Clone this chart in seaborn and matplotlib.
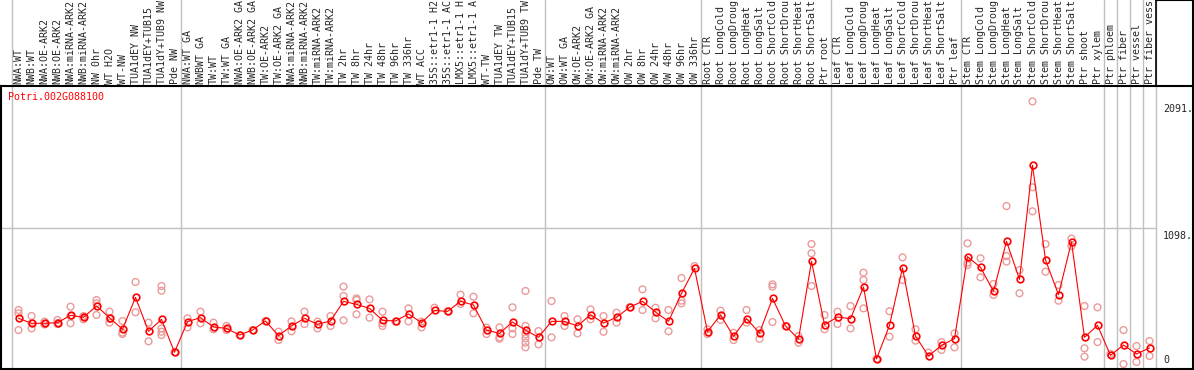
import numpy as np
import pandas as pd
import matplotlib
matplotlib.use("Agg")
import matplotlib.pyplot as plt
import seaborn as sns

# 샘플 이름 (그림에 보이는 대로, 잘린 글자는 생략)
labels_nw = ["NWA:WT", "NWB:WT", "NWA:OE-ARK2", "NWB:OE-ARK2", "NWA:miRNA-ARK2",
             "NWB:miRNA-ARK2", "NW 0hr", "WT H2O", "WT-NW", "TUA1dEY NW",
             "TUA1dEY+TUB15", "TUA1dY+TUB9 NW", "Pde NW"]
labels_tw = ["NWA:WT GA", "NWBWT GA", "TW:WT", "TW:WT GA", "NWA:OE-ARK2 GA",
             "NWB:OE-ARK2 GA", "TW:OE-ARK2", "TW:OE-ARK2 GA", "NWA:miRNA-ARK2",
             "NWB:miRNA-ARK2", "TW:miRNA-ARK2", "TW:miRNA-ARK2", "TW 2hr", "TW 8hr",
             "TW 24hr", "TW 48hr", "TW 96hr", "TW 336hr", "WT ACC", "35S::etr1-1 H2",
             "35S::etr1-1 AC", "LMX5::etr1-1 H", "LMX5::etr1-1 A", "WT-TW",
             "TUA1dEY TW", "TUA1dEY+TUB15", "TUA1dY+TUB9 TW", "Pde TW"]
labels_ow = ["OW:WT", "OW:WT GA", "OW:OE-ARK2", "OW:OE-ARK2 GA", "OW:miRNA-ARK2",
             "OW:miRNA-ARK2", "OW 2hr", "OW 8hr", "OW 24hr", "OW 48hr", "OW 96hr", "OW 336hr"]
labels_root = ["Root CTR", "Root LongCold", "Root LongDroug", "Root LongHeat", "Root LongSalt",
               "Root ShortCold", "Root ShortDrou", "Root ShortHeat", "Root ShortSalt", "Ptr root"]
labels_leaf = ["Leaf CTR", "Leaf LongCold", "Leaf LongDroug", "Leaf LongHeat", "Leaf LongSalt",
               "Leaf ShortCold", "Leaf ShortDrou", "Leaf ShortHeat", "Leaf ShortSalt", "Ptr leaf"]
labels_stem = ["Stem CTR", "Stem LongCold", "Stem LongDroug", "Stem LongHeat", "Stem LongSalt",
               "Stem ShortCold", "Stem ShortDrou", "Stem ShortHeat", "Stem ShortSalt",
               "Ptr shoot", "Ptr xylem"]
labels_ptr = ["Ptr phloem", "Ptr fiber", "Ptr vessel", "Ptr fiber vess"]

groups = [labels_nw, labels_tw, labels_ow, labels_root, labels_leaf, labels_stem,
          ["Ptr phloem"], ["Ptr fiber"], ["Ptr vessel"], ["Ptr fiber vess"]]
labels = sum(groups, [])

# 평균 발현값 (빨간 선)
mean_expr = [393, 354, 354, 359, 416, 401, 489, 398, 307, 557, 291, 385, 127,
             367, 398, 325, 314, 262, 301, 372, 257, 333, 393, 346, 372, 526, 502, 471,
             377, 372, 427, 359, 455, 447, 526, 497, 301, 275, 364, 301, 244,
             369, 369, 333, 421, 356, 400, 479, 526, 442, 369, 588, 784,
             288, 419, 252, 390, 278, 549, 333, 231, 839, 343,
             403, 390, 638, 75, 338, 787, 254, 98, 181, 234,
             876, 792, 604, 996, 698, 1591, 850, 578, 991, 244, 338,
             103, 184, 114, 161]

# 반복 측정값 (분홍 원)
rep_expr = [[458, 432, 301], [411, 314, 354], [367, 350, 345], [380, 348, 355],
            [484, 354, 410], [385, 410, 405], [536, 510, 419], [445, 359, 390],
            [372, 281, 270], [677, 440], [359, 213], [646, 609, 314, 288, 262], [127],
            [393, 322], [445, 354], [359, 307], [333, 301], [262], [301], [372],
            [288, 223], [369, 291], [445, 348], [367, 314], [411, 333], [641, 568, 377],
            [549, 536, 424], [541, 398], [445, 354, 333], [367], [471, 369], [367, 322],
            [476], [447], [578, 505], [562, 432], [320, 270], [322, 244, 233],
            [479, 314, 270], [607, 333, 267, 236, 202, 166], [293, 189],
            [528, 244], [411, 333], [385, 275], [463, 385], [411, 288], [437, 359],
            [479], [620, 458], [476, 393], [458, 291], [708, 531, 510], [802],
            [307, 270], [453, 380], [280, 223], [458, 359], [301, 233], [659, 641, 364],
            [333], [254, 202], [975, 902, 646], [419, 307],
            [445, 348], [489, 314], [750, 693, 471], [75], [448, 249], [870, 693],
            [307, 218], [124], [207, 145], [275, 166],
            [980, 829, 810], [863, 714], [662, 576], [1272, 881, 837], [771, 589],
            [2091, 1419, 1231], [975, 758], [654, 531], [1017, 959], [489, 158, 93],
            [479, 207],
            [114], [301, 35], [176, 51], [215, 98]]

gene_id = "Potri.002G088100"
y_marks = [2091, 1098]

pos = np.arange(len(labels))
mean_df = pd.DataFrame({"pos": pos, "expr": mean_expr})
rep_df = pd.DataFrame([(i, v) for i, vals in enumerate(rep_expr) for v in vals],
                      columns=["pos", "expr"])

sns.set_style("white")
plt.rcParams["font.family"] = ["DejaVu Sans Mono", "DejaVu Sans"]

W, H = 1194, 370
fig = plt.figure(figsize=(W / 100, H / 100), dpi=100)
ax_top_px, ax_bot_px = 85.5, 368.5
ax = fig.add_axes([1 / W, (H - ax_bot_px) / H, (W - 2) / W, (ax_bot_px - ax_top_px) / H])

# 픽셀 -> 데이터 좌표 (열 간격 13px)
x0, dx = 18.5, 13.0
ax.set_xlim((1 - x0) / dx, (W - 1 - x0) / dx)
vpp = 7.83
ymax = (ax_bot_px - ax_top_px) * vpp
ax.set_ylim(0, ymax)
y_fig_top = ax_bot_px * vpp  # 그림 맨 위에 해당하는 값

grey = "#c0c0c0"
pink = "#eb9a9a"

# 그룹 경계선
bounds = np.cumsum([0] + [len(g) for g in groups]) - 0.5
for b in bounds:
    ax.plot([b, b], [0, y_fig_top], color=grey, lw=1.0, clip_on=False, zorder=1)
ax.hlines(1098, (1 - x0) / dx, bounds[-1], color=grey, lw=1.0, zorder=1)

# 반복값과 평균
sns.scatterplot(data=rep_df, x="pos", y="expr", ax=ax, color=pink, facecolor="none",
                edgecolor=pink, linewidth=1.0, s=24, zorder=2, legend=False)
sns.lineplot(data=mean_df, x="pos", y="expr", ax=ax, estimator=None, color="red",
             lw=0.8, marker="o", ms=4.8, mfc="none", mec="red", mew=1.2, zorder=3)

# 위쪽 샘플 라벨
ax.set_xticks(pos)
ax.set_xticklabels(labels, rotation=90, fontsize=7.2)
ax.tick_params(axis="x", top=True, bottom=False, labeltop=True, labelbottom=False,
               length=0, pad=1.2)
ax.set_yticks([])
ax.set_xlabel("")
ax.set_ylabel("")

for s in ax.spines.values():
    s.set_color("black")
    s.set_linewidth(1.5)

# 오른쪽 위 박스
xr = (W - 1 - x0) / dx
ax.plot([bounds[-1], bounds[-1]], [ymax, y_fig_top], color="black", lw=1.2, clip_on=False, zorder=4)
ax.plot([bounds[-1], xr], [y_fig_top, y_fig_top], color="black", lw=1.5, clip_on=False, zorder=4)
ax.plot([xr, xr], [ymax, y_fig_top], color="black", lw=1.5, clip_on=False, zorder=4)

# 값 표시
lx = (1163 - x0) / dx
for v in y_marks:
    ax.text(lx, v - 20, f"{v}.", fontsize=7.2, ha="left", va="top")
ax.text(lx, 25, "0", fontsize=7.2, ha="left", va="bottom")
ax.text((8 - x0) / dx, (ax_bot_px - 97) * vpp, gene_id, color="red", fontsize=7.2,
        ha="left", va="center")

fig.savefig("out.png", dpi=100)
